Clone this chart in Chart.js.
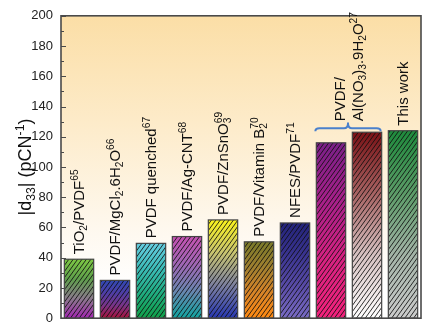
<!DOCTYPE html>
<html>
<head>
<meta charset="utf-8">
<script src="https://cdn.jsdelivr.net/npm/chart.js@4.4.1/dist/chart.umd.min.js"></script>
<style>
  body { margin: 0; background: #fff; }
  canvas { display: block; }
</style>
</head>
<body>
<canvas id="d33chart" width="431" height="334"></canvas>
<script>
// sample names, _{} = subscript, ^{} = superscript (reference number)
const categories = [
  "TiO_{2}/PVDF^{65}",
  "PVDF/MgCl_{2}.6H_{2}O^{66}",
  "PVDF quenched^{67}",
  "PVDF/Ag-CNT^{68}",
  "PVDF/ZnSnO_{3}^{69}",
  "PVDF/Vitamin B_{2}^{70}",
  "NFES/PVDF^{71}",
  "PVDF/Al(NO_{3})_{3}.9H_{2}O^{27} (a)",
  "PVDF/Al(NO_{3})_{3}.9H_{2}O^{27} (b)",
  "This work"
];
const d33Values = [39, 25, 49.5, 54, 65, 50.5, 63, 116, 123, 124];

// the two Al(NO3)3 bars share one bracketed label
const groupBars = [7, 8];
const groupLines = ["PVDF/", "Al(NO_{3})_{3}.9H_{2}O^{27}"];

const yMin = 0;
const yMax = 200;
const yStep = 20;
const yTitle = "|d_{33}| (pCN^{-1})";

// bar gradients, top -> bottom
const barGradients = [
  ["#7cc843", "#5f9f4c", "#8a7a8c", "#a326b2"],
  ["#3048b2", "#4e3ea6", "#7a3488", "#a8123a"],
  ["#66cde0", "#3cbcb8", "#20ac80", "#10a048"],
  ["#c452b2", "#a066b4", "#6a86b0", "#10a4a0"],
  ["#faf21c", "#c8c470", "#7c80a0", "#2636b2"],
  ["#7a7a2a", "#a08030", "#d88428", "#ff8a12"],
  ["#24247a", "#3a3490", "#5a4ca8", "#7a6cc4"],
  ["#7a2088", "#a8208a", "#d82282", "#f4227c"],
  ["#7a1216", "#a86464", "#d8c4c4", "#ffffff"],
  ["#1e8a3c", "#5c9c68", "#a4b4a8", "#cccccc"]
];

const FONT = "'Liberation Sans', Arial, Helvetica, sans-serif";

function parseRich(str) {
  const parts = [];
  const re = /([_^])\{([^}]*)\}/g;
  let last = 0, m;
  while ((m = re.exec(str)) !== null) {
    if (m.index > last) parts.push({ t: str.slice(last, m.index), k: "n" });
    parts.push({ t: m[2], k: m[1] == "_" ? "sub" : "sup" });
    last = re.lastIndex;
  }
  if (last < str.length) parts.push({ t: str.slice(last), k: "n" });
  return parts;
}

// draws along local x from 0, baseline at local y = 0; returns width
function drawRich(ctx, str, size, measureOnly) {
  const parts = parseRich(str);
  let x = 0, subStart = null;
  const small = size * 0.68;
  parts.forEach((p) => {
    if (p.k == "n") {
      ctx.font = size + "px " + FONT;
      if (!measureOnly) ctx.fillText(p.t, x, 0);
      x += ctx.measureText(p.t).width;
      subStart = null;
    } else if (p.k == "sub") {
      ctx.font = small + "px " + FONT;
      if (!measureOnly) ctx.fillText(p.t, x, size * 0.22);
      subStart = x;
      x += ctx.measureText(p.t).width;
    } else {
      ctx.font = small + "px " + FONT;
      const sx = subStart !== null ? subStart : x;
      if (!measureOnly) ctx.fillText(p.t, sx, -size * 0.4);
      x = Math.max(x, sx + ctx.measureText(p.t).width);
      subStart = null;
    }
  });
  return x;
}

function drawVertical(ctx, str, size, baseX, startY) {
  ctx.save();
  ctx.translate(baseX, startY);
  ctx.rotate(-Math.PI / 2);
  ctx.textAlign = "left";
  ctx.textBaseline = "alphabetic";
  ctx.fillStyle = "#111";
  drawRich(ctx, str, size, false);
  ctx.restore();
}

const decorPlugin = {
  id: "decor",
  beforeDraw(chart) {
    const ctx = chart.ctx;
    const a = chart.chartArea;
    ctx.save();
    ctx.fillStyle = "#fff";
    ctx.fillRect(0, 0, chart.width, chart.height);
    const g = ctx.createLinearGradient(0, a.top, 0, a.bottom);
    g.addColorStop(0, "#fbdea6");
    g.addColorStop(0.35, "#fdebc9");
    g.addColorStop(0.7, "#fef8ee");
    g.addColorStop(0.9, "#ffffff");
    ctx.fillStyle = g;
    ctx.fillRect(a.left, a.top, a.right - a.left, a.bottom - a.top);
    ctx.restore();
  },
  afterDatasetsDraw(chart) {
    const ctx = chart.ctx;
    const a = chart.chartArea;
    const yScale = chart.scales.y;
    const meta = chart.getDatasetMeta(0);

    // hatching + outline on every bar
    meta.data.forEach((bar) => {
      const p = bar.getProps(["x", "y", "base", "width"], true);
      const left = p.x - p.width / 2;
      const h = p.base - p.y;
      ctx.save();
      ctx.beginPath();
      ctx.rect(left, p.y, p.width, h);
      ctx.clip();
      ctx.strokeStyle = "rgba(15,15,15,0.85)";
      ctx.lineWidth = 1;
      const slope = 0.72;
      ctx.beginPath();
      for (let sx = Math.floor((left - h * slope) / 4.4) * 4.4; sx < left + p.width + 4; sx += 4.4) {
        ctx.moveTo(sx, p.base);
        ctx.lineTo(sx + h * slope, p.y);
      }
      ctx.stroke();
      ctx.restore();
      ctx.save();
      ctx.strokeStyle = "#444";
      ctx.lineWidth = 1.2;
      ctx.strokeRect(left, p.y, p.width, h);
      ctx.restore();
    });

    // frame
    ctx.save();
    ctx.strokeStyle = "#4a4a4a";
    ctx.lineWidth = 1.6;
    ctx.strokeRect(a.left, a.top, a.right - a.left, a.bottom - a.top);

    // inward ticks on left axis
    ctx.lineWidth = 1;
    ctx.beginPath();
    for (let v = yMin; v <= yMax; v += yStep / 2) {
      const py = Math.round(yScale.getPixelForValue(v)) + 0.5;
      const len = v % yStep == 0 ? 5 : 3;
      ctx.moveTo(a.left, py);
      ctx.lineTo(a.left + len, py);
    }
    ctx.stroke();
    ctx.restore();

    // labels above bars
    meta.data.forEach((bar, i) => {
      if (groupBars.includes(i)) return;
      const p = bar.getProps(["x", "y"], true);
      drawVertical(ctx, categories[i], 15, p.x + 5, p.y - 5);
    });

    // bracket + shared label
    const b0 = meta.data[groupBars[0]].getProps(["x", "y", "width"], true);
    const b1 = meta.data[groupBars[1]].getProps(["x", "y", "width"], true);
    const bl = b0.x - b0.width / 2 - 1;
    const br = b1.x + b1.width / 2 - 1;
    const by = Math.min(b0.y, b1.y) - 4;
    const mid = (bl + br) / 2;
    ctx.save();
    ctx.strokeStyle = "#4a80cc";
    ctx.lineWidth = 2;
    ctx.lineJoin = "round";
    ctx.beginPath();
    ctx.moveTo(bl, by + 3);
    ctx.quadraticCurveTo(bl, by, bl + 4, by);
    ctx.lineTo(mid - 4, by);
    ctx.quadraticCurveTo(mid, by, mid, by - 5);
    ctx.quadraticCurveTo(mid, by, mid + 4, by);
    ctx.lineTo(br - 4, by);
    ctx.quadraticCurveTo(br, by, br, by + 3);
    ctx.stroke();
    ctx.restore();
    drawVertical(ctx, groupLines[0], 15, mid - 3, by - 7);
    drawVertical(ctx, groupLines[1], 15, mid + 15, by - 7);

    // y axis title
    ctx.save();
    const tw = drawRich(ctx, yTitle, 18, true);
    ctx.restore();
    drawVertical(ctx, yTitle, 18, 31, (a.top + a.bottom) / 2 + tw / 2);
  }
};

var d33Chart = new Chart(document.getElementById("d33chart"), {
  type: "bar",
  data: {
    labels: categories,
    datasets: [
      {
        data: d33Values,
        barPercentage: 0.815,
        categoryPercentage: 1,
        borderWidth: 0,
        backgroundColor: function (c) {
          const chart = c.chart;
          if (!chart.chartArea || c.parsed == undefined) return barGradients[c.dataIndex][0];
          const yScale = chart.scales.y;
          const top = yScale.getPixelForValue(c.parsed.y);
          const bottom = yScale.getPixelForValue(0);
          const g = chart.ctx.createLinearGradient(0, top, 0, bottom);
          const stops = barGradients[c.dataIndex];
          stops.forEach((col, k) => g.addColorStop(k / (stops.length - 1), col));
          return g;
        },
      },
    ],
  },
  options: {
    responsive: false,
    animation: false,
    layout: { padding: { top: 14, right: 10, bottom: 9, left: 0 } },
    plugins: {
      legend: { display: false },
      tooltip: { enabled: false },
    },
    scales: {
      x: { display: false },
      y: {
        min: yMin,
        max: yMax,
        ticks: {
          stepSize: yStep,
          padding: 8,
          color: "#222",
          font: { family: FONT, size: 13 },
        },
        grid: { display: false, drawTicks: false },
        border: { display: false },
        afterFit: function (scale) {
          scale.width = 61;
        },
      },
    },
  },
  plugins: [decorPlugin],
});
</script>
</body>
</html>
